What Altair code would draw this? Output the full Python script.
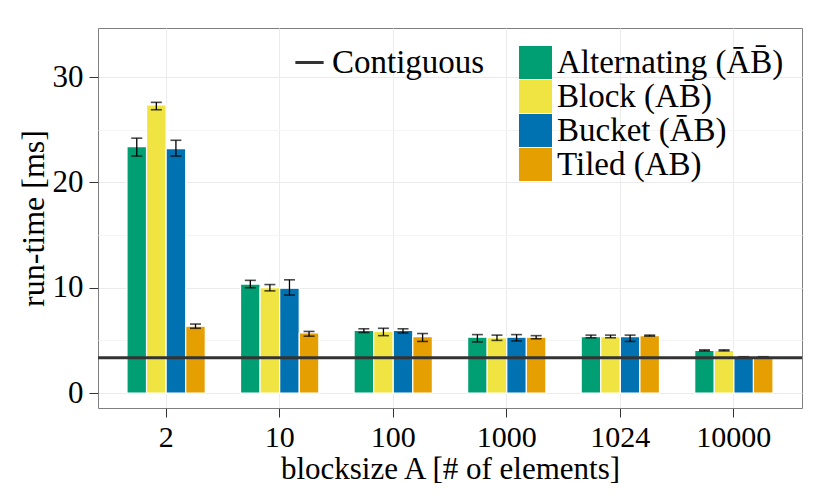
import altair as alt
import pandas as pd

blocksizes = ["2", "10", "100", "1000", "1024", "10000"]
series = ["Alternating (ĀB̄)", "Block (AB̄)", "Bucket (ĀB)", "Tiled (AB)"]
colors = ["#009E73", "#F0E442", "#0072B2", "#E69F00"]

alternating = [23.4, 10.35, 5.95, 5.3, 5.35, 4.05]
block = [27.35, 10.0, 5.85, 5.25, 5.35, 4.05]
bucket = [23.2, 9.95, 5.95, 5.3, 5.35, 3.4]
tiled = [6.35, 5.7, 5.35, 5.3, 5.45, 3.4]

alternating_lo = [22.5, 10.0, 5.75, 4.85, 5.25, 4.0]
alternating_hi = [24.2, 10.7, 6.1, 5.55, 5.5, 4.1]
block_lo = [26.9, 9.7, 5.45, 5.0, 5.25, 4.0]
block_hi = [27.6, 10.3, 6.15, 5.5, 5.5, 4.1]
bucket_lo = [22.5, 9.3, 5.7, 4.95, 4.9, 3.38]
bucket_hi = [24.0, 10.75, 6.1, 5.55, 5.5, 3.45]
tiled_lo = [6.15, 5.4, 4.9, 5.15, 5.4, 3.38]
tiled_hi = [6.55, 5.85, 5.65, 5.45, 5.5, 3.45]

contiguous = 3.35

vals = [alternating, block, bucket, tiled]
los = [alternating_lo, block_lo, bucket_lo, tiled_lo]
his = [alternating_hi, block_hi, bucket_hi, tiled_hi]

rows = []
for s, v, lo, hi in zip(series, vals, los, his):
    for b, a, l, h in zip(blocksizes, v, lo, hi):
        rows.append({"blocksize": b, "layout": s, "time": a, "lo": l, "hi": h})
df = pd.DataFrame(rows)
cdf = pd.DataFrame({"name": ["Contiguous"], "time": [contiguous]})

FONT = "Liberation Serif"

x_enc = alt.X(
    "blocksize:N",
    sort=blocksizes,
    scale=alt.Scale(paddingInner=0, paddingOuter=0.1),
    axis=alt.Axis(
        title="blocksize A [# of elements]",
        labelAngle=0,
        grid=True,
        gridColor="#ebebeb",
        domain=False,
        tickSize=9,
        tickColor="#333333",
        labelPadding=5,
        titlePadding=2,
        labelFontSize=30,
        titleFontSize=31,
    ),
)
xoff = alt.XOffset(
    "layout:N",
    sort=series,
    scale=alt.Scale(paddingInner=0, paddingOuter=0.9),
)
y_scale = alt.Scale(domain=[-1.42, 34.66], nice=False, zero=False)
y_enc = alt.Y(
    "time:Q",
    scale=y_scale,
    axis=alt.Axis(
        title="run-time [ms]",
        values=[0, 5, 10, 15, 20, 25, 30],
        labelExpr="datum.value % 10 === 0 ? datum.label : ''",
        tickOpacity={"condition": {"test": "datum.value % 10 === 0", "value": 1}, "value": 0},
        gridColor={"condition": {"test": "datum.value % 10 === 0", "value": "#ebebeb"}, "value": "#f4f4f4"},
        domain=False,
        tickSize=9,
        tickColor="#333333",
        labelPadding=6,
        titlePadding=2,
        labelFontSize=31,
        titleFontSize=32,
    ),
)

bars = alt.Chart(df).mark_bar(stroke="white", strokeWidth=1.2).encode(
    x=x_enc,
    xOffset=xoff,
    y=y_enc,
    fill=alt.Fill(
        "layout:N",
        sort=series,
        scale=alt.Scale(domain=series, range=colors),
        legend=alt.Legend(
            title=None,
            orient="none",
            legendX=421,
            legendY=18,
            symbolType="square",
            symbolSize=1089,
            symbolStrokeWidth=0,
            labelFontSize=33,
            labelFont=FONT,
            labelColor="black",
            labelOffset=5,
            rowPadding=0,
            padding=0,
            labelLimit=400,
        ),
    ),
)

rules = alt.Chart(df).mark_rule(color="black", strokeWidth=1.3).encode(
    x=x_enc, xOffset=xoff, y=alt.Y("lo:Q", scale=y_scale), y2="hi:Q"
)
caps_lo = alt.Chart(df).mark_tick(color="black", size=11, thickness=1.6).encode(
    x=x_enc, xOffset=xoff, y=alt.Y("lo:Q", scale=y_scale)
)
caps_hi = alt.Chart(df).mark_tick(color="black", size=11, thickness=1.6).encode(
    x=x_enc, xOffset=xoff, y=alt.Y("hi:Q", scale=y_scale)
)

cline = alt.Chart(cdf).mark_rule(strokeWidth=3).encode(
    y=alt.Y("time:Q", scale=y_scale),
    stroke=alt.Stroke(
        "name:N",
        scale=alt.Scale(range=["#333333"]),
        legend=alt.Legend(
            title=None,
            orient="none",
            legendX=195,
            legendY=18,
            symbolType="stroke",
            symbolSize=800,
            symbolStrokeWidth=3,
            labelFontSize=33,
            labelFont=FONT,
            labelColor="black",
            labelOffset=6,
            padding=0,
        ),
    ),
)

chart = (
    alt.layer(bars, rules, caps_lo, caps_hi, cline)
    .resolve_scale(fill="independent", stroke="independent")
    .properties(
        width=704,
        height=380,
        autosize=alt.AutoSizeParams(type="none"),
        padding={"left": 90, "top": 20, "right": 16, "bottom": 88},
    )
    .configure_view(stroke="#7f7f7f", strokeWidth=1)
    .configure_axis(
        labelFont=FONT,
        titleFont=FONT,
        labelColor="black",
        titleColor="black",
        titleFontWeight="normal",
    )
)

chart.save("out.html", embed_options={"renderer": "svg", "actions": False})
